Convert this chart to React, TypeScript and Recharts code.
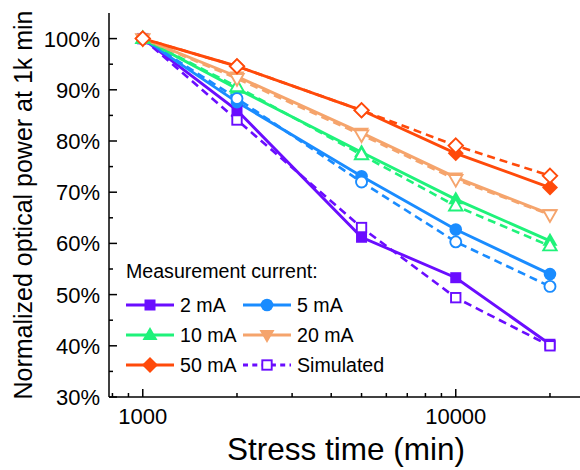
import React from "react";
import { LineChart, Line, XAxis, YAxis, Legend, Label } from "recharts";

const FONT = '"Liberation Sans", Arial, Helvetica, sans-serif';

// stress time (min)
const times = [1000, 2000, 5000, 10000, 20000];

// normalized optical power (%), measured
const meas2 = [100, 86.0, 61.2, 53.3, 40.3];
const meas5 = [100, 87.6, 73.1, 62.7, 54.0];
const meas10 = [100, 90.2, 77.8, 68.6, 60.5];
const meas20 = [100, 92.6, 81.6, 72.9, 65.7];
const meas50 = [100, 94.6, 86.0, 77.6, 70.9];

// simulated
const sim2 = [100, 84.1, 63.1, 49.4, 40.0];
const sim5 = [100, 88.3, 72.0, 60.3, 51.6];
const sim10 = [100, 90.6, 77.3, 67.3, 59.5];
const sim20 = [100, 92.2, 81.2, 72.5, 65.6];
const sim50 = [100, 94.6, 86.0, 79.1, 73.2];

const currents = ["2 mA", "5 mA", "10 mA", "20 mA", "50 mA"];
const colors = ["#6a0dff", "#1a8cff", "#1ff27a", "#f5a46c", "#ff4a0a"];
const shapes = ["square", "circle", "triangle", "triangleDown", "diamond"];
const measured = [meas2, meas5, meas10, meas20, meas50];
const simulated = [sim2, sim5, sim10, sim20, sim50];

const xTicks = [800, 900, 1000, 2000, 3000, 4000, 5000, 6000, 7000, 8000, 9000, 10000, 20000];
const xLabels = [1000, 10000];
const yTicks = [30, 35, 40, 45, 50, 55, 60, 65, 70, 75, 80, 85, 90, 95, 100];
const yLabels = [30, 40, 50, 60, 70, 80, 90, 100];

const rows = times.map((t, i) => {
  const row: Record<string, number> = { time: t };
  currents.forEach((_, k) => {
    row[`m${k}`] = measured[k][i];
    row[`s${k}`] = simulated[k][i];
  });
  return row;
});

function Marker({ shape, cx, cy, color, open }: any) {
  const fill = open ? "#fff" : color;
  const stroke = color;
  const sw = open ? 1.9 : 0;
  const d = open ? 0.8 : 0;
  switch (shape) {
    case "square": {
      const s = 5.5 - d;
      return <rect x={cx - s} y={cy - s} width={2 * s} height={2 * s} fill={fill} stroke={stroke} strokeWidth={sw} />;
    }
    case "circle":
      return <circle cx={cx} cy={cy} r={6.3 - d} fill={fill} stroke={stroke} strokeWidth={sw} />;
    case "triangle": {
      const h = 8 - d;
      const w = 7.5 - d;
      return <polygon points={`${cx},${cy - h} ${cx - w},${cy + h * 0.62} ${cx + w},${cy + h * 0.62}`} fill={fill} stroke={stroke} strokeWidth={sw} />;
    }
    case "triangleDown": {
      const h = 8 - d;
      const w = 7.5 - d;
      return <polygon points={`${cx},${cy + h} ${cx - w},${cy - h * 0.62} ${cx + w},${cy - h * 0.62}`} fill={fill} stroke={stroke} strokeWidth={sw} />;
    }
    default: {
      const r = 8 - d;
      return <polygon points={`${cx},${cy - r} ${cx + r},${cy} ${cx},${cy + r} ${cx - r},${cy}`} fill={fill} stroke={stroke} strokeWidth={sw} />;
    }
  }
}

const dotFor = (k: number, open: boolean) => (p: any) => (
  <Marker key={`${open ? "s" : "m"}${k}-${p.index}`} shape={shapes[k]} cx={p.cx} cy={p.cy} color={colors[k]} open={open} />
);

const LeftTick = ({ x, y, payload }: any) => {
  const v = payload.value;
  const major = yLabels.includes(v);
  return (
    <g>
      <line x1={x} x2={x + (major ? 8 : 4)} y1={y} y2={y} stroke="#000" strokeWidth={1.5} />
      {major && (
        <text x={x - 9} y={y} dy="0.36em" textAnchor="end" fontSize={22} fontFamily={FONT} fill="#000">
          {v}%
        </text>
      )}
    </g>
  );
};

const RightTick = ({ x, y, payload }: any) => {
  const major = yLabels.includes(payload.value);
  return <line x1={x} x2={x - (major ? 8 : 4)} y1={y} y2={y} stroke="#000" strokeWidth={1.5} />;
};

const BottomTick = ({ x, y, payload }: any) => {
  const v = payload.value;
  const major = xLabels.includes(v);
  return (
    <g>
      <line x1={x} x2={x} y1={y} y2={y - (major ? 8 : 4)} stroke="#000" strokeWidth={1.5} />
      {major && (
        <text x={x} y={y + 27} textAnchor="middle" fontSize={22} fontFamily={FONT} fill="#000">
          {v}
        </text>
      )}
    </g>
  );
};

const TopTick = ({ x, y, payload }: any) => {
  const major = xLabels.includes(payload.value);
  return <line x1={x} x2={x} y1={y} y2={y + (major ? 8 : 4)} stroke="#000" strokeWidth={1.5} />;
};

const legendCols = [6, 123];
const legendRows = [47, 77, 107];

function LegendBox() {
  const items = currents.map((c, k) => ({ label: c, k, open: false }));
  const all = [...items, { label: "Simulated", k: 0, open: true }];
  return (
    <svg width={320} height={130} style={{ display: "block" }}>
      <text x={6} y={20} fontSize={19.6} fontFamily={FONT} fill="#000">
        Measurement current:
      </text>
      {all.map((it, i) => {
        const x0 = legendCols[i % 2];
        const y0 = legendRows[Math.floor(i / 2)];
        const color = colors[it.k];
        return (
          <g key={it.label}>
            <line x1={x0} x2={x0 + 48} y1={y0} y2={y0} stroke={color} strokeWidth={2.8} strokeDasharray={it.open ? "5 4.3" : undefined} />
            <Marker shape={shapes[it.k]} cx={x0 + 24} cy={y0} color={color} open={it.open} />
            <text x={x0 + 54} y={y0} dy="0.36em" fontSize={19.6} fontFamily={FONT} fill="#000">
              {it.label}
            </text>
          </g>
        );
      })}
    </svg>
  );
}

export default function App() {
  return (
    <div style={{ position: "absolute", left: 0, top: 0, width: 580, height: 470, overflow: "hidden", background: "#fff" }}>
      <LineChart width={583} height={470} data={rows} margin={{ top: 13, right: 0, bottom: 0, left: 0 }}>
        <XAxis
          xAxisId="b"
          dataKey="time"
          type="number"
          scale="log"
          domain={[780, 25500]}
          allowDataOverflow
          ticks={xTicks}
          interval={0}
          height={73}
          tickSize={0}
          tickMargin={0}
          tickLine={false}
          tick={<BottomTick />}
          axisLine={{ stroke: "#000", strokeWidth: 1.5 }}
        >
          <Label
            content={({ viewBox }: any) => (
              <text x={viewBox.x + viewBox.width / 2} y={viewBox.y + 63} textAnchor="middle" fontSize={31.5} fontFamily={FONT} fill="#000">
                Stress time (min)
              </text>
            )}
          />
        </XAxis>
        <XAxis
          xAxisId="t"
          orientation="top"
          dataKey="time"
          type="number"
          scale="log"
          domain={[780, 25500]}
          allowDataOverflow
          ticks={xTicks}
          interval={0}
          height={0}
          tickSize={0}
          tickMargin={0}
          tickLine={false}
          tick={<TopTick />}
          axisLine={{ stroke: "#000", strokeWidth: 1.5 }}
        />
        <YAxis
          yAxisId="l"
          type="number"
          domain={[30, 105]}
          allowDataOverflow
          ticks={yTicks}
          interval={0}
          width={109}
          tickSize={0}
          tickMargin={0}
          tickLine={false}
          tick={<LeftTick />}
          axisLine={{ stroke: "#000", strokeWidth: 1.5 }}
        >
          <Label
            content={({ viewBox }: any) => {
              const cy = viewBox.y + viewBox.height / 2;
              return (
                <text x={32} y={cy} transform={`rotate(-90, 32, ${cy})`} textAnchor="middle" fontSize={25} fontFamily={FONT} fill="#000">
                  Normalized optical power at 1k min
                </text>
              );
            }}
          />
        </YAxis>
        <YAxis
          yAxisId="r"
          orientation="right"
          type="number"
          domain={[30, 105]}
          allowDataOverflow
          ticks={yTicks}
          interval={0}
          width={0}
          tickSize={0}
          tickMargin={0}
          tickLine={false}
          tick={<RightTick />}
          axisLine={{ stroke: "#000", strokeWidth: 1.5 }}
        />
        <Legend
          layout="vertical"
          align="center"
          verticalAlign="middle"
          wrapperStyle={{ left: 120, top: 258, width: 320, height: 130 }}
          content={() => <LegendBox />}
        />
        {currents.map((c, k) => (
          <Line
            key={`m${k}`}
            xAxisId="b"
            yAxisId="l"
            dataKey={`m${k}`}
            name={c}
            stroke={colors[k]}
            strokeWidth={2.9}
            dot={dotFor(k, false)}
            activeDot={false}
            isAnimationActive={false}
          />
        ))}
        {currents.map((c, k) => (
          <Line
            key={`s${k}`}
            xAxisId="b"
            yAxisId="l"
            dataKey={`s${k}`}
            name={`${c} simulated`}
            stroke={colors[k]}
            strokeWidth={2.6}
            strokeDasharray="8 5"
            dot={dotFor(k, true)}
            activeDot={false}
            isAnimationActive={false}
          />
        ))}
      </LineChart>
    </div>
  );
}
